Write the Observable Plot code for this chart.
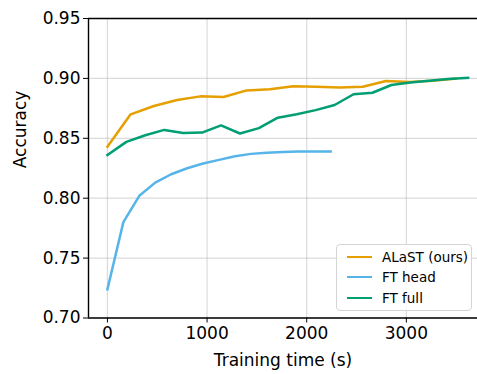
<!DOCTYPE html>
<html><head><meta charset="utf-8">
<script src="https://cdn.jsdelivr.net/npm/d3@7"></script>
<script src="https://cdn.jsdelivr.net/npm/@observablehq/plot@0.6"></script>
<style>
body{margin:0;background:#fff;font-family:"DejaVu Sans",sans-serif;}
#wrap{position:relative;width:477px;height:374px;overflow:hidden;}
#legend{position:absolute;left:336px;top:244px;width:136px;height:67px;border:1px solid #d5d5d5;border-radius:4px;background:rgba(255,255,255,0.85);box-sizing:border-box;font-size:13.5px;color:#000;}
.row{position:absolute;left:10px;height:16px;line-height:16px;white-space:nowrap;}
.sw{position:absolute;left:0;top:7px;width:25px;height:0;border-top:2.5px solid;}
.lbl{position:absolute;left:35px;top:0;}
</style></head>
<body><div id="wrap"></div>
<script>
const seriesNames = ["ALaST (ours)", "FT head", "FT full"];
const colors = ["#E69F00", "#56B4E9", "#009E73"];

const alastTime = [0, 233, 466, 699, 932, 1165, 1398, 1631, 1864, 2097, 2330, 2563, 2796, 3029, 3262, 3495];
const alastAcc  = [0.843, 0.870, 0.877, 0.882, 0.885, 0.8845, 0.890, 0.891, 0.8935, 0.893, 0.8925, 0.893, 0.8978, 0.897, 0.898, 0.8998];

const headTime = [0, 160, 320, 480, 640, 800, 960, 1120, 1280, 1440, 1600, 1760, 1920, 2080, 2240];
const headAcc  = [0.724, 0.780, 0.802, 0.813, 0.820, 0.825, 0.829, 0.832, 0.835, 0.837, 0.838, 0.8385, 0.839, 0.839, 0.839];

const fullTime = [0, 190, 380, 570, 760, 950, 1140, 1330, 1520, 1710, 1900, 2090, 2280, 2470, 2660, 2850, 3040, 3230, 3420, 3620];
const fullAcc  = [0.836, 0.847, 0.8525, 0.857, 0.8545, 0.8548, 0.8608, 0.854, 0.8585, 0.8672, 0.870, 0.8735, 0.8778, 0.8868, 0.888, 0.8945, 0.8965, 0.898, 0.8995, 0.9005];

const xTicks = [0, 1000, 2000, 3000];
const yTicks = [0.70, 0.75, 0.80, 0.85, 0.90, 0.95];

const toRows = (t, a, s) => t.map((x, i) => ({time: x, acc: a[i], series: s}));
const data = [
  ...toRows(alastTime, alastAcc, seriesNames[0]),
  ...toRows(headTime, headAcc, seriesNames[1]),
  ...toRows(fullTime, fullAcc, seriesNames[2])
];

const xDom = [-190, 3714];
const yDom = [0.70, 0.95];

const chart = Plot.plot({
  width: 477, height: 374,
  marginLeft: 88, marginRight: 0, marginTop: 18, marginBottom: 56.5,
  style: {fontFamily: "DejaVu Sans, sans-serif", fontSize: "17px", color: "#000", background: "#fff"},
  x: {domain: xDom},
  y: {domain: yDom},
  color: {domain: seriesNames, range: colors},
  marks: [
    Plot.gridX(xTicks, {stroke: "#b0b0b0", strokeOpacity: 0.45, strokeWidth: 1.2}),
    Plot.gridY(yTicks, {stroke: "#b0b0b0", strokeOpacity: 0.45, strokeWidth: 1.2}),
    Plot.line(data, {x: "time", y: "acc", z: "series", stroke: "series", strokeWidth: 2.5, strokeLinejoin: "miter", strokeLinecap: "square"}),
    Plot.ruleX([xDom[0]], {stroke: "#000", strokeWidth: 1.4}),
    Plot.ruleY([yDom[0], yDom[1]], {stroke: "#000", strokeWidth: 1.4}),
    Plot.axisX(xTicks, {tickSize: 5, tickPadding: 4, fontSize: 17, label: null, tickFormat: d => String(d)}),
    Plot.axisY(yTicks, {tickSize: 5, tickPadding: 3, fontSize: 17, label: null, tickFormat: d3.format(".2f")}),
    Plot.text(["Training time (s)"], {frameAnchor: "bottom", dy: 48, fontSize: 17, text: d => d}),
    Plot.text(["Accuracy"], {frameAnchor: "left", dx: -68, rotate: -90, fontSize: 17, text: d => d})
  ]
});
const wrap = document.getElementById("wrap");
wrap.appendChild(chart);
const leg = document.createElement("div");
leg.id = "legend";
seriesNames.forEach((n, i) => {
  const r = document.createElement("div");
  r.className = "row";
  r.style.top = (3.5 + i * 20.5) + "px";
  r.innerHTML = `<span class="sw" style="border-color:${colors[i]}"></span><span class="lbl">${n}</span>`;
  leg.appendChild(r);
});
wrap.appendChild(leg);
</script></body></html>
